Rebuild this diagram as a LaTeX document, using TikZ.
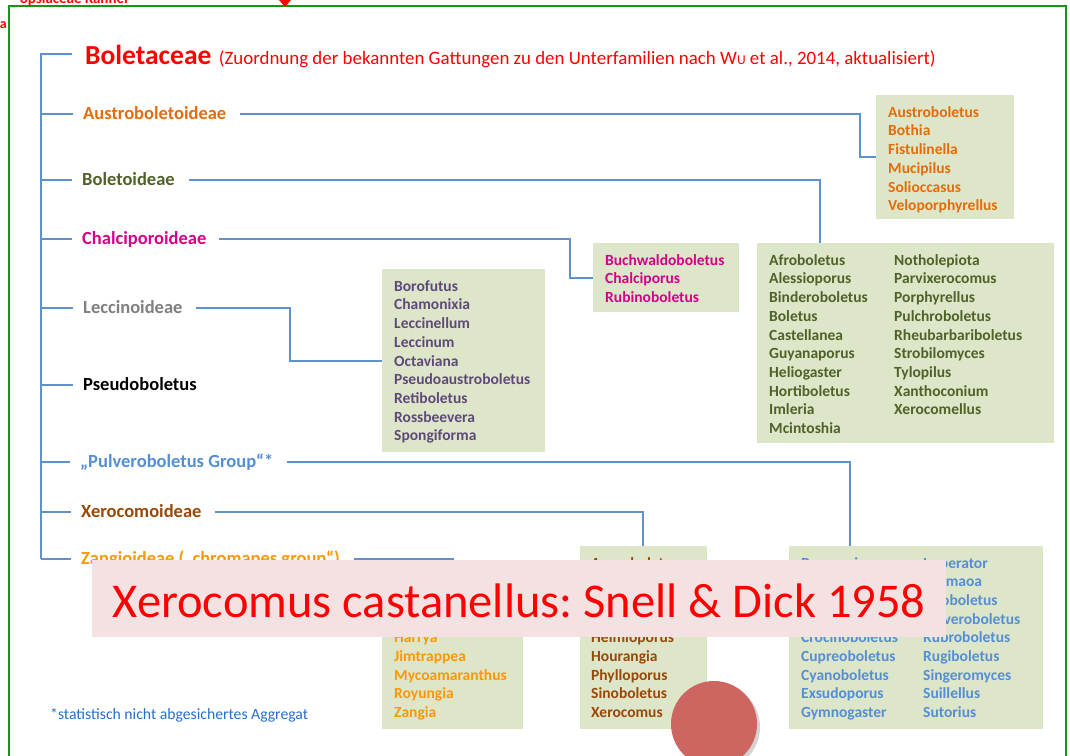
\documentclass[tikz,border=0pt]{standalone}
\usepackage{fontspec}
\setmainfont{Carlito}
\usetikzlibrary{shadows}

\definecolor{framec}{RGB}{20,150,20}
\definecolor{treec}{RGB}{95,145,205}
\definecolor{gboxc}{RGB}{221,230,201}
\definecolor{austroc}{HTML}{E46C0A}
\definecolor{boletc}{HTML}{4F6228}
\definecolor{chalcic}{RGB}{212,0,140}
\definecolor{leccinc}{HTML}{7F7F7F}
\definecolor{lecgenc}{HTML}{5F497A}
\definecolor{pulveroc}{HTML}{558ED5}
\definecolor{xerocc}{HTML}{984807}
\definecolor{zangioc}{RGB}{250,152,5}
\definecolor{notec}{RGB}{40,110,200}
\definecolor{pinkbg}{RGB}{244,225,225}
\definecolor{circc}{RGB}{205,102,96}

\tikzset{
  tree/.style={draw=treec, line width=1.2},
  sub/.style={anchor=west, inner sep=0, text height=13, text depth=2,
    font=\fontsize{18.5}{22}\selectfont\bfseries},
  gen/.style={anchor=west, inner sep=0, text height=11, text depth=2,
    font=\fontsize{15.5}{18}\selectfont\bfseries},
  gbox/.style={anchor=north west, fill=gboxc, inner sep=0},
}

\begin{document}
\frenchspacing
\begin{tikzpicture}[x=1pt,y=-1pt]
    \useasboundingbox (0,0) rectangle (1070,755);
    % Rahmen und Reste am Rand
    \draw[framec, line width=2] (9,775) -- (9,6) -- (1066,6) -- (1066,775);
    \node[anchor=base east, inner sep=0, text=red, font=\fontsize{15}{17}\selectfont\bfseries] (topnote) at (128,3) {opsiaceae Kannel};
    \node[anchor=base east, inner sep=0, text=red, font=\fontsize{14}{16}\selectfont\bfseries] (topa) at (7,28) {a};
    \fill[red] (279,0) -- (291,0) -- (285,7) -- cycle;

    % Titel
    \node[anchor=base west, inner sep=0, text=red, font=\fontsize{27.5}{30}\selectfont\bfseries] (fam) at (85,64) {Boletaceae};
    \node[anchor=base west, inner sep=0, text=red, font=\fontsize{18.9}{22}\selectfont] (famnote) at ([xshift=7pt]fam.base east)
        {(Zuordnung der bekannten Gattungen zu den Unterfamilien nach W{\fontsize{13.5}{15}\selectfont U} et al., 2014, aktualisiert)};

    % Unterfamilien
    \node[sub, text=austroc] (austro) at (83,114) {Austroboletoideae};
    \node[sub, text=boletc] (boletoid) at (82,180) {Boletoideae};
    \node[sub, text=chalcic] (chalci) at (82,239) {Chalciporoideae};
    \node[sub, text=leccinc] (leccin) at (83,308) {Leccinoideae};
    \node[sub] (pseudo) at (83,385) {Pseudoboletus};
    \node[sub, text=pulveroc] (pulvero) at (80,462) {„Pulveroboletus Group“*};
    \node[sub, text=xerocc] (xeroc) at (81,512) {Xerocomoideae};
    \node[sub, text=zangioc] (zangio) at (81,559) {Zangioideae („chromapes group“)};

    % Stamm
    \coordinate (root) at (41,54);
    \draw[tree] ([xshift=31pt]root) -- (root) -- (root |- zangio.west);
    \foreach \n in {austro,boletoid,chalci,leccin,pseudo,pulvero,xeroc,zangio}
        \draw[tree] (root |- \n.west) -- ([xshift=-10pt]\n.west);

    % Gattungskaesten
    \node[gbox, minimum width=138, minimum height=124] (austrobox) at (876,95) {};
    \node[gbox, minimum width=297, minimum height=200] (boletbox) at (757,243) {};
    \node[gbox, minimum width=146, minimum height=69] (chalcibox) at (593,243) {};
    \node[gbox, minimum width=163, minimum height=183] (leccinbox) at (382,269) {};
    \node[gbox, minimum width=254, minimum height=183] (pulverobox) at (789,546) {};
    \node[gbox, minimum width=127, minimum height=183] (xerocbox) at (580,546) {};
    \node[gbox, minimum width=141, minimum height=164] (zangiobox) at (382,565) {};

    \foreach \g [count=\i from 0] in {Austroboletus,Bothia,Fistulinella,Mucipilus,Solioccasus,Veloporphyrellus}
        \node[gen, text=austroc] (aus\i) at (888,{112.7+18.7*\i}) {\g};
    \foreach \g [count=\i from 0] in {Afroboletus,Alessioporus,Binderoboletus,Boletus,Castellanea,Guyanaporus,Heliogaster,Hortiboletus,Imleria,Mcintoshia}
        \node[gen, text=boletc] (bolA\i) at (769,{260.7+18.7*\i}) {\g};
    \foreach \g [count=\i from 0] in {Notholepiota,Parvixerocomus,Porphyrellus,Pulchroboletus,Rheubarbariboletus,Strobilomyces,Tylopilus,Xanthoconium,Xerocomellus}
        \node[gen, text=boletc] (bolB\i) at (894,{260.7+18.7*\i}) {\g};
    \foreach \g [count=\i from 0] in {Buchwaldoboletus,Chalciporus,Rubinoboletus}
        \node[gen, text=chalcic] (cha\i) at (605,{260.7+18.7*\i}) {\g};
    \foreach \g [count=\i from 0] in {Borofutus,Chamonixia,Leccinellum,Leccinum,Octaviana,Pseudoaustroboletus,Retiboletus,Rossbeevera,Spongiforma}
        \node[gen, text=lecgenc] (lec\i) at (394,{286.7+18.7*\i}) {\g};
    \foreach \i/\g in {0/Baorangia,4/Crocinoboletus,5/Cupreoboletus,6/Cyanoboletus,7/Exsudoporus,8/Gymnogaster}
        \node[gen, text=pulveroc] (pulA\i) at (801,{563.5+18.7*\i}) {\g};
    \foreach \g [count=\i from 0] in {Imperator,Lanmaoa,Neoboletus,Pulveroboletus,Rubroboletus,Rugiboletus,Singeromyces,Suillellus,Sutorius}
        \node[gen, text=pulveroc] (pulB\i) at (923,{563.5+18.7*\i}) {\g};
    \foreach \i/\g in {0/Aureoboletus,4/Heimioporus,5/Hourangia,6/Phylloporus,7/Sinoboletus,8/Xerocomus}
        \node[gen, text=xerocc] (xer\i) at (591,{563.5+18.7*\i}) {\g};
    \foreach \i/\g in {4/Harrya,5/Jimtrappea,6/Mycoamaranthus,7/Royungia,8/Zangia}
        \node[gen, text=zangioc] (zan\i) at (394,{563.5+18.7*\i}) {\g};

    % Verbindungen
    \coordinate (austrok) at (860,157);
    \coordinate (boletk) at (820,180);
    \coordinate (chalcik) at (570,278);
    \coordinate (leccink) at (290,361);
    \coordinate (pulverok) at (850,462);
    \coordinate (xerock) at (643,512);
    \coordinate (zangiok) at (453,559);
    \draw[tree] ([xshift=14pt]austro.east) -| (austrok) -- (austrok -| austrobox.west);
    \draw[tree] ([xshift=14pt]boletoid.east) -- (boletk) -- (boletk |- boletbox.north);
    \draw[tree] ([xshift=13pt]chalci.east) -| (chalcik) -- (chalcik -| chalcibox.west);
    \draw[tree] ([xshift=13pt]leccin.east) -| (leccink) -- (leccink -| leccinbox.west);
    \draw[tree] ([xshift=14pt]pulvero.east) -- (pulverok) -- (pulverok |- pulverobox.north);
    \draw[tree] ([xshift=13pt]xeroc.east) -- (xerock) -- (xerock |- xerocbox.north);
    \draw[tree] ([xshift=14pt]zangio.east) -- (zangiok) -- (zangiok |- zangiobox.north);

    % Fussnote
    \node[anchor=base west, inner sep=0, text=notec, font=\fontsize{15.7}{18}\selectfont] (foot) at (50,719) {*statistisch nicht abgesichertes Aggregat};

    % Einblendung
    \node[anchor=north west, fill=pinkbg, inner sep=0, minimum width=854, minimum height=77, text height=37, text depth=0,
        text=red, font=\fontsize{48.5}{52}\selectfont] (ref) at (92,560) {Xerocomus castanellus: Snell \& Dick 1958};
    \node[circle, fill=circc, minimum size=86, inner sep=0, drop shadow={opacity=0.35, shadow xshift=3pt, shadow yshift=-3pt}] (dot) at (714,724) {};
\end{tikzpicture}
\end{document}
